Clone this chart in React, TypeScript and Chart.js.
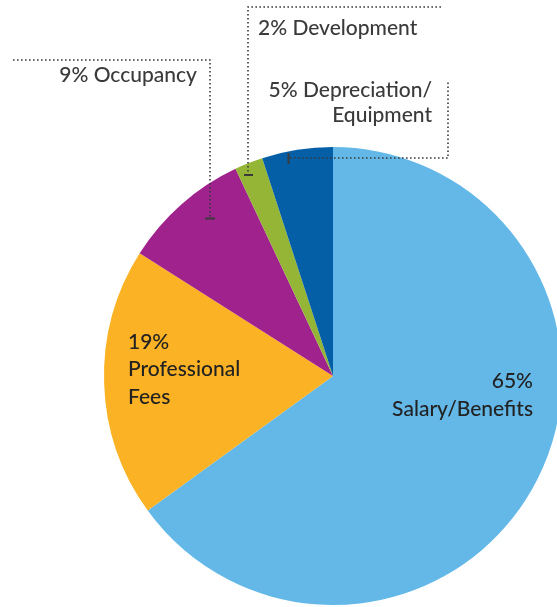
import React, { useEffect, useRef } from "react";
import { Chart, registerables } from "chart.js";

Chart.register(...registerables);

const categories = ["Salary/Benefits", "Professional Fees", "Occupancy", "Development", "Depreciation/Equipment"];
const values = [65, 19, 9, 2, 5];
const colors = ["#63b8e8", "#fbb224", "#a0228c", "#94b536", "#055fa7"];

const FONT = "Lato, 'Noto Sans', sans-serif";

const labelPlugin = {
  id: "customLabels",
  afterDraw(chart: any) {
    const ctx = chart.ctx as CanvasRenderingContext2D;
    ctx.save();
    ctx.strokeStyle = "#3a3a3a";
    ctx.lineWidth = 1.6;
    ctx.setLineDash([1.6, 2.4]);
    const poly = (pts: number[][]) => {
      ctx.beginPath();
      ctx.moveTo(pts[0][0], pts[0][1]);
      for (let i = 1; i < pts.length; i++) ctx.lineTo(pts[i][0], pts[i][1]);
      ctx.stroke();
    };
    poly([[13, 60], [210, 60], [210, 217]]);
    poly([[441, 7], [248, 7], [248, 174]]);
    poly([[290, 158], [448, 158], [448, 80]]);
    ctx.setLineDash([]);
    ctx.lineWidth = 2;
    poly([[205, 218.5], [215, 218.5]]);
    poly([[244, 175], [253, 175]]);
    poly([[288.5, 153], [288.5, 164]]);

    ctx.fillStyle = "#3a3a3a";
    ctx.font = `500 21px ${FONT}`;
    ctx.textBaseline = "alphabetic";
    ctx.textAlign = "right";
    ctx.fillText(`${values[2]}% Occupancy`, 197, 82);
    ctx.textAlign = "left";
    ctx.fillText(`${values[3]}% Development`, 258, 35);
    ctx.textAlign = "right";
    ctx.fillText(`${values[4]}% Depreciation/`, 432, 97);
    ctx.fillText("Equipment", 432, 122);

    ctx.fillStyle = "#222";
    ctx.textAlign = "left";
    ctx.fillText(`${values[1]}%`, 128, 349);
    ctx.fillText("Professional", 128, 376);
    ctx.fillText("Fees", 128, 404);
    ctx.textAlign = "right";
    ctx.fillText(`${values[0]}%`, 533, 388);
    ctx.fillText("Salary/Benefits", 533, 416);
    ctx.restore();
  },
};

export default function App() {
  const ref = useRef<HTMLCanvasElement>(null);
  useEffect(() => {
    if (!ref.current) return;
    const chart = new Chart(ref.current, {
      type: "pie",
      data: {
        labels: categories,
        datasets: [
          {
            data: values,
            backgroundColor: colors,
            borderWidth: 0,
          },
        ],
      },
      options: {
        animation: false,
        responsive: false,
        maintainAspectRatio: false,
        layout: { padding: { left: 104, top: 147, right: 38, bottom: 2 } },
        plugins: {
          legend: { display: false },
          tooltip: { enabled: false },
        },
      },
      plugins: [labelPlugin],
    });
    return () => chart.destroy();
  }, []);
  return (
    <div
      style={{
        position: "absolute",
        left: 0,
        top: 0,
        width: 557,
        height: 607,
        overflow: "hidden",
        background: "#fff",
      }}
    >
      <canvas ref={ref} width={600} height={607} style={{ width: 600, height: 607, display: "block" }} />
    </div>
  );
}
